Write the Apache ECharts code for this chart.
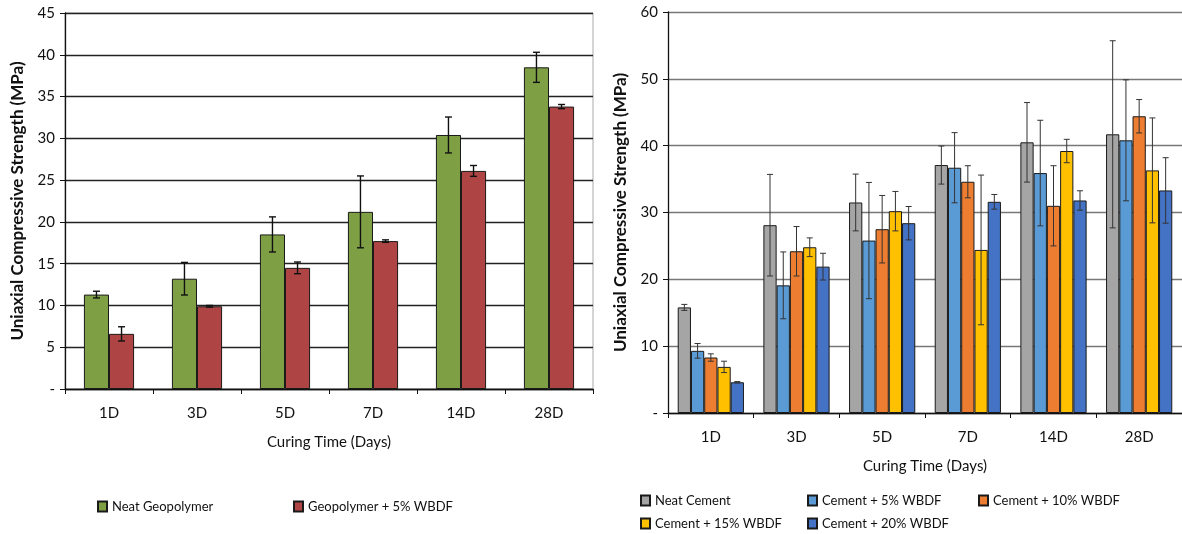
<!DOCTYPE html>
<html><head><meta charset="utf-8">
<script src="https://cdn.jsdelivr.net/npm/echarts@6/dist/echarts.min.js"></script>
<style>html,body{margin:0;padding:0;background:#fff}#c{width:1182px;height:534px}</style>
</head><body><div id="c"></div>
<script>
const categories = ['1D','3D','5D','7D','14D','28D'];
const leftSeriesNames = ['Neat Geopolymer','Geopolymer + 5% WBDF'];
const geoNeat = [11.3,13.2,18.5,21.2,30.4,38.5];
const geoNeatErr = [0.4,1.95,2.1,4.3,2.15,1.8];
const geoWbdf = [6.6,9.9,14.5,17.7,26.1,33.8];
const geoWbdfErr = [0.85,0.1,0.7,0.15,0.65,0.25];

const rightSeriesNames = ['Neat Cement','Cement + 5% WBDF','Cement + 10% WBDF','Cement + 15% WBDF','Cement + 20% WBDF'];
const neatCement = [15.8,28.1,31.5,37.1,40.5,41.7];
const neatCementErr = [0.45,7.6,4.25,2.85,5.95,14.0];
const cem5 = [9.3,19.1,25.8,36.7,35.9,40.8];
const cem5Err = [1.1,5.0,8.7,5.25,7.9,9.05];
const cem10 = [8.3,24.2,27.5,34.6,31.0,44.4];
const cem10Err = [0.55,3.7,5.05,2.4,6.0,2.5];
const cem15 = [6.9,24.8,30.2,24.4,39.2,36.3];
const cem15Err = [0.85,1.4,2.95,11.2,1.75,7.85];
const cem20 = [4.6,21.9,28.4,31.6,31.8,33.3];
const cem20Err = [0.1,2.0,2.5,1.1,1.45,4.9];

const FONT = 'Lato';
const TXT = '#111';

const leftColors = ['#7F9F45','#AE4544'];
const rightColors = ['#A5A5A5','#5B9BD5','#ED7D31','#FFC000','#4472C4'];

const leftVals = [geoNeat, geoWbdf];
const leftErrs = [geoNeatErr, geoWbdfErr];
const rightVals = [neatCement, cem5, cem10, cem15, cem20];
const rightErrs = [neatCementErr, cem5Err, cem10Err, cem15Err, cem20Err];

const LGAP = 0.43, RGAP = 0.227;

function errData(vals, errs){
  const out = [];
  vals.forEach((arr, s) => arr.forEach((v, i) => out.push([i, v - errs[s][i], v + errs[s][i], s])));
  return out;
}
function makeErrRender(n, gap, color, lw, cap){
  return function(params, api){
    const c = api.value(0);
    const lo = api.coord([c, api.value(1)]);
    const hi = api.coord([c, api.value(2)]);
    const band = api.size([1, 0])[0];
    const bw = band * (1 - gap) / n;
    const x = lo[0] - band * (1 - gap) / 2 + bw * (api.value(3) + 0.5);
    const st = {stroke: color, lineWidth: lw};
    return {type: 'group', children: [
      {type: 'line', shape: {x1: x, y1: lo[1], x2: x, y2: hi[1]}, style: st},
      {type: 'line', shape: {x1: x - cap, y1: lo[1], x2: x + cap, y2: lo[1]}, style: st},
      {type: 'line', shape: {x1: x - cap, y1: hi[1], x2: x + cap, y2: hi[1]}, style: st}
    ]};
  };
}

function yAxisCfg(gridIndex, max, interval, gridColor){
  return {
    type: 'value', gridIndex, min: 0, max, interval,
    name: 'Uniaxial Compressive Strength (MPa)', nameLocation: 'middle', nameGap: 39,
    nameTextStyle: {fontFamily: FONT, fontWeight: 'bold', fontSize: 17, color: TXT},
    axisLine: {show: true, lineStyle: {color: '#111', width: 1.3}},
    axisTick: {show: true, length: 5, lineStyle: {color: '#111'}},
    axisLabel: {fontFamily: FONT, fontSize: 15, color: TXT, margin: 10,
      formatter: v => v === 0 ? '-' : String(v)},
    splitLine: {show: true, lineStyle: {color: gridColor, width: 1.4}}
  };
}
function xAxisCfg(gridIndex){
  return {
    type: 'category', gridIndex, data: categories,
    name: 'Curing Time (Days)', nameLocation: 'middle', nameGap: 46,
    nameTextStyle: {fontFamily: FONT, fontSize: 15, color: TXT},
    axisLine: {show: true, lineStyle: {color: '#111', width: 1.3}},
    axisTick: {show: true, length: 5, lineStyle: {color: '#111'}},
    axisLabel: {fontFamily: FONT, fontSize: 15, color: TXT, margin: 17}
  };
}

const series = [];
leftSeriesNames.forEach((name, s) => series.push({
  type: 'bar', name, xAxisIndex: 0, yAxisIndex: 0, data: leftVals[s],
  barGap: 0, barCategoryGap: (LGAP * 100) + '%',
  itemStyle: {color: leftColors[s], borderColor: '#1a1a1a', borderWidth: 1}
}));
series.push({type: 'custom', xAxisIndex: 0, yAxisIndex: 0, z: 10,
  data: errData(leftVals, leftErrs), encode: {x: 0, y: [1, 2]},
  renderItem: makeErrRender(2, LGAP, '#111', 1.4, 3.5)});
rightSeriesNames.forEach((name, s) => series.push({
  type: 'bar', name, xAxisIndex: 1, yAxisIndex: 1, data: rightVals[s],
  barGap: 0, barCategoryGap: (RGAP * 100) + '%',
  itemStyle: {color: rightColors[s], borderColor: '#1a1a1a', borderWidth: 1}
}));
series.push({type: 'custom', xAxisIndex: 1, yAxisIndex: 1, z: 10,
  data: errData(rightVals, rightErrs), encode: {x: 0, y: [1, 2]},
  renderItem: makeErrRender(5, RGAP, '#333', 1, 3)});

function leg(name, left, top){
  return {data: [name], left, top, itemWidth: 9, itemHeight: 10, itemGap: 4, padding: 0,
    icon: 'rect', textStyle: {fontFamily: FONT, fontSize: 13, color: TXT}};
}

const option = {
  animation: false,
  backgroundColor: '#fff',
  grid: [
    {left: 65, top: 13, width: 528, height: 376, show: true, borderColor: '#aaa', borderWidth: 1},
    {left: 668, top: 12, width: 518, height: 401, show: false}
  ],
  xAxis: [xAxisCfg(0), xAxisCfg(1)],
  yAxis: [yAxisCfg(0, 45, 5, '#222'), yAxisCfg(1, 60, 10, '#777')],
  legend: [
    leg(leftSeriesNames[0], 97, 500),
    leg(leftSeriesNames[1], 293, 500),
    leg(rightSeriesNames[0], 640, 494),
    leg(rightSeriesNames[1], 807, 494),
    leg(rightSeriesNames[2], 978, 494),
    leg(rightSeriesNames[3], 640, 517),
    leg(rightSeriesNames[4], 807, 517)
  ],
  series
};
const chart = echarts.init(document.getElementById('c'), null, {renderer: 'canvas'});
chart.setOption(option);
</script></body></html>
